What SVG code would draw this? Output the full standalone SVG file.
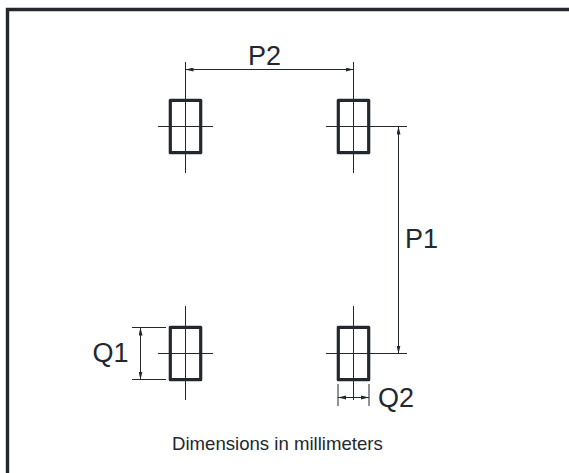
<svg xmlns="http://www.w3.org/2000/svg" width="569" height="473" viewBox="0 0 569 473">
<style>
.pad{fill:none;stroke:#22282e;stroke-width:3.2;stroke-linejoin:round}
.thin{fill:none;stroke:#22282e;stroke-width:1}
.frame{fill:none;stroke:#22282e;stroke-width:3.4}
text{font-family:"Liberation Sans",Arial,sans-serif;fill:#22282e}
.big{font-size:27px}
.small{font-size:18.6px}
</style>
<defs>
<marker id="arrow" viewBox="0 0 8 4" refX="8" refY="2" markerWidth="8" markerHeight="4" markerUnits="userSpaceOnUse" orient="auto-start-reverse"><path d="M0 0L8 2L0 4Z" fill="#22282e"/></marker>
</defs>
<rect width="569" height="473" fill="#fff"/>
<path class="frame" d="M569 9.5H7.5V473"/>
<g id="pad-top-left">
<rect class="pad" x="170.3" y="100.3" width="30.4" height="52.4"/>
<path class="thin" d="M185.5 62V173M158 126.5H213"/>
</g>
<g id="pad-top-right">
<rect class="pad" x="338.3" y="100.3" width="30.4" height="52.4"/>
<path class="thin" d="M353.5 62V173M326 126.5H407"/>
</g>
<g id="pad-bottom-left">
<rect class="pad" x="170.3" y="327.3" width="30.4" height="52.4"/>
<path class="thin" d="M185.5 306V400M158 353.5H213"/>
</g>
<g id="pad-bottom-right">
<rect class="pad" x="338.3" y="327.3" width="30.4" height="52.4"/>
<path class="thin" d="M353.5 306V400M326 353.5H407"/>
</g>
<g id="connectors">
<path class="thin" marker-start="url(#arrow)" marker-end="url(#arrow)" d="M185.5 69.5H353.5"/>
<path class="thin" marker-start="url(#arrow)" marker-end="url(#arrow)" d="M398.5 126.5V353.5"/>
<path class="thin" d="M132 327.5H166M132 379.5H166M338 384V406M369 384V406"/>
<path class="thin" marker-start="url(#arrow)" marker-end="url(#arrow)" d="M140.5 327.5V379.5"/>
<path class="thin" d="M338 397.5H369"/>
<path fill="#22282e" d="M338 397.5l8-2v4zM369 397.5l-8-2v4z"/>
</g>
<g id="labels">
<text class="big" x="248" y="65">P2</text>
<text class="big" x="405" y="248">P1</text>
<text class="big" x="92.5" y="361.5">Q1</text>
<text class="big" x="378" y="406.5">Q2</text>
<text class="small" x="172" y="450">Dimensions in millimeters</text>
</g>
</svg>
